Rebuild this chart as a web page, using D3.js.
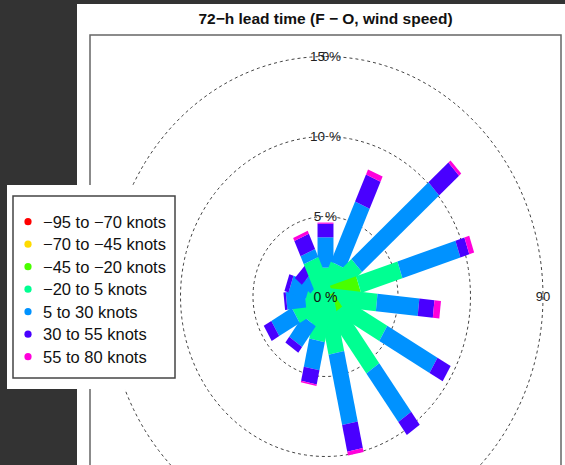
<!DOCTYPE html>
<html>
<head>
<meta charset="utf-8">
<script src="https://cdn.jsdelivr.net/npm/d3@7"></script>
<style>
  html, body { margin: 0; padding: 0; background: #333; }
  svg { display: block; }
  text { font-family: "Liberation Sans", Arial, sans-serif; }
</style>
</head>
<body>
<svg id="chart" width="565" height="465"></svg>
<script>
// Direction bins (degrees clockwise from north)
const directions = [0, 24, 48, 72, 96, 120, 144, 168, 192, 216, 240, 264, 288, 312, 336];

// Speed-difference classes and their colours
const classLabels = [
  "\u221295 to \u221270 knots",
  "\u221270 to \u221245 knots",
  "\u221245 to \u221220 knots",
  "\u221220 to 5 knots",
  "5 to 30 knots",
  "30 to 55 knots",
  "55 to 80 knots"
];
const classColors = ["#FF0000", "#FFDB00", "#49FF00", "#00FF92", "#0092FF", "#4900FF", "#FF00DB"];

// Frequency (%) of each class per direction bin
const freqM95 = [0, 0, 0, 0, 0, 0, 0, 0, 0, 0, 0, 0, 0, 0, 0];
const freqM70 = [0, 0, 0, 0, 0, 0, 0, 0, 0, 0, 0, 0, 0, 0, 0];
const freqM45 = [0, 0, 0, 2.4, 0, 0, 1.2, 0, 0, 0, 0, 0, 0, 0, 0];
const freqM20 = [1.8, 2.15, 2.9, 3.0, 3.55, 4.6, 4.35, 3.6, 2.8, 1.9, 2.37, 1.4, 1.25, 0.9, 2.45];
const freqP5  = [1.9, 4.1, 7.15, 4.2, 2.9, 4.0, 3.75, 4.5, 1.8, 1.6, 1.63, 1.3, 1.25, 0.8, 0.55];
const freqP30 = [0.85, 1.85, 1.85, 0.65, 1.05, 1.05, 1.0, 1.7, 0.9, 0.45, 0.6, 0.16, 0.3, 0.65, 1.05];
const freqP55 = [0.07, 0.35, 0.2, 0.35, 0.45, 0, 0, 0.25, 0.1, 0, 0, 0, 0, 0, 0.2];
const classFreqs = [freqM95, freqM70, freqM45, freqM20, freqP5, freqP30, freqP55];

// Rings and axis labels
const ringValues = [5, 10, 15];
const ringLabels = ["5 %", "10 %", "15 %"];
const dirLabels = [{ angle: 0, text: "0" }, { angle: 90, text: "90" }];
const titleText = "72\u2212h lead time (F \u2212 O, wind speed)";

const svg = d3.select("#chart");
const W = 565, H = 465;

// background and figure panel
svg.append("rect").attr("width", W).attr("height", H).attr("fill", "#333333");
svg.append("rect").attr("x", 77).attr("y", 4).attr("width", W - 77).attr("height", H - 4).attr("fill", "#ffffff");

// plot region
const box = { x0: 90, y0: 35, x1: 561, y1: 470 };
const cx = (box.x0 + box.x1) / 2, cy = 296.5;

// percent -> pixel scales (x and y units differ)
const xs = d3.scaleLinear().domain([0, 15]).range([cx, cx + 217.5]);
const ys = d3.scaleLinear().domain([0, 15]).range([cy, cy - 240]);

svg.append("defs").append("clipPath").attr("id", "plotclip")
  .append("rect").attr("x", box.x0).attr("y", box.y0)
  .attr("width", box.x1 - box.x0).attr("height", box.y1 - box.y0);

const plot = svg.append("g").attr("clip-path", "url(#plotclip)");

// dashed percentage rings
const ringPath = r => {
  const pts = d3.range(0, 361, 2).map(a => {
    const t = a * Math.PI / 180;
    return [xs(r * Math.sin(t)), ys(r * Math.cos(t))];
  });
  return d3.line()(pts);
};
plot.selectAll("path.ring").data(ringValues).join("path")
  .attr("class", "ring")
  .attr("d", ringPath)
  .attr("fill", "none")
  .attr("stroke", "#444")
  .attr("stroke-width", 1)
  .attr("stroke-dasharray", "3,3");

// stacked bars
const halfW = 0.55;
const toRad = d => d * Math.PI / 180;
const segments = [];
directions.forEach((deg, i) => {
  let cum = 0;
  classFreqs.forEach((arr, k) => {
    const v = arr[i];
    if (v > 0) segments.push({ deg, r0: cum, r1: cum + v, color: classColors[k] });
    cum += v;
  });
});
const barPoly = s => {
  const t = toRad(s.deg);
  const ax = Math.sin(t), ay = Math.cos(t);
  const px = Math.cos(t), py = -Math.sin(t);
  const c = [
    [s.r0 * ax + halfW * px, s.r0 * ay + halfW * py],
    [s.r1 * ax + halfW * px, s.r1 * ay + halfW * py],
    [s.r1 * ax - halfW * px, s.r1 * ay - halfW * py],
    [s.r0 * ax - halfW * px, s.r0 * ay - halfW * py]
  ];
  return c.map(p => [xs(p[0]), ys(p[1])].join(",")).join(" ");
};
plot.selectAll("polygon.bar").data(segments).join("polygon")
  .attr("class", "bar")
  .attr("points", barPoly)
  .attr("fill", d => d.color);

// ring labels
plot.selectAll("text.rl").data(ringValues).join("text")
  .attr("class", "rl")
  .attr("x", cx)
  .attr("y", d => ys(d))
  .attr("text-anchor", "middle")
  .attr("dominant-baseline", "central")
  .attr("font-size", 13.5)
  .attr("fill", "#222")
  .text((d, i) => ringLabels[i]);
plot.append("text")
  .attr("x", cx).attr("y", cy)
  .attr("text-anchor", "middle").attr("dominant-baseline", "central")
  .attr("font-size", 14).attr("fill", "#111")
  .text("0 %");

// direction labels on the outer ring
const outer = ringValues[ringValues.length - 1];
plot.selectAll("text.dl").data(dirLabels).join("text")
  .attr("class", "dl")
  .attr("x", d => xs(outer * Math.sin(toRad(d.angle))))
  .attr("y", d => ys(outer * Math.cos(toRad(d.angle))))
  .attr("text-anchor", "middle")
  .attr("dominant-baseline", "central")
  .attr("font-size", 13)
  .attr("fill", "#222")
  .text(d => d.text);

// plot frame
svg.append("rect")
  .attr("x", box.x0).attr("y", box.y0)
  .attr("width", box.x1 - box.x0).attr("height", box.y1 - box.y0)
  .attr("fill", "none").attr("stroke", "#666").attr("stroke-width", 1.5);

// title
svg.append("text")
  .attr("x", cx).attr("y", 24)
  .attr("text-anchor", "middle")
  .attr("font-size", 15.5).attr("font-weight", "bold")
  .attr("fill", "#111")
  .text(titleText);

// legend
const lg = svg.append("g");
lg.append("rect").attr("x", 7).attr("y", 185).attr("width", 171).attr("height", 204).attr("fill", "#fff");
lg.append("rect").attr("x", 13).attr("y", 196).attr("width", 162).attr("height", 182)
  .attr("fill", "#fff").attr("stroke", "#444").attr("stroke-width", 1.5);
const rowY = d3.scaleLinear().domain([0, 6]).range([221.7, 356.7]);
const rows = lg.selectAll("g.row").data(classLabels).join("g").attr("class", "row")
  .attr("transform", (d, i) => `translate(0,${rowY(i)})`);
rows.append("circle").attr("cx", 28).attr("cy", 0).attr("r", 3.6).attr("fill", (d, i) => classColors[i]);
rows.append("text").attr("x", 43).attr("y", 0)
  .attr("dominant-baseline", "central")
  .attr("font-size", 16.5).attr("fill", "#111")
  .text(d => d);
</script>
</body>
</html>
